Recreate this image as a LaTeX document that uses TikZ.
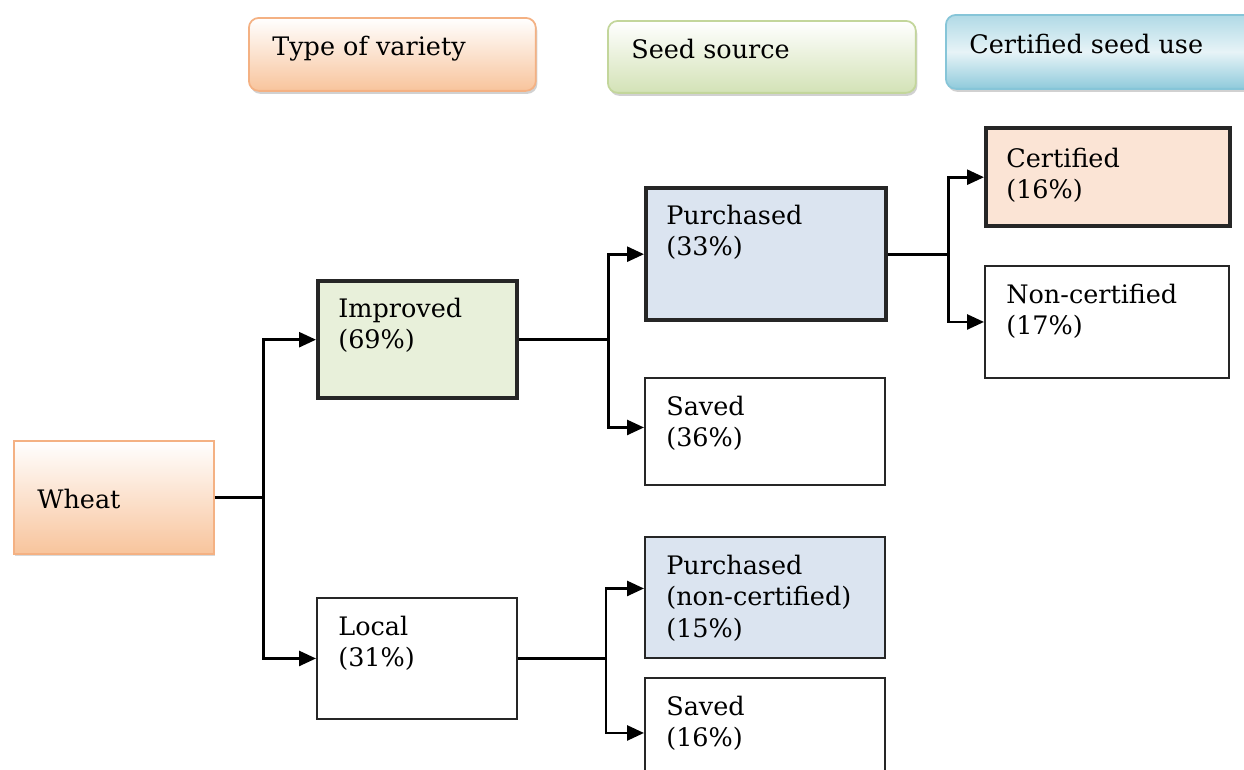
\documentclass[tikz,border=0pt]{standalone}
\usepackage{fontspec}
\setmainfont{DejaVu Serif}
\usetikzlibrary{arrows.meta,shadows}
\definecolor{peachline}{HTML}{F4B183}
\definecolor{peachdark}{HTML}{F8C49C}
\definecolor{greenline}{HTML}{C3D69B}
\definecolor{greendark}{HTML}{D3E2B6}
\definecolor{blueline}{HTML}{86C5D8}
\definecolor{bluedark}{HTML}{8FCADB}
\definecolor{imprfill}{HTML}{E8F0DA}
\definecolor{purfill}{HTML}{DBE4F0}
\definecolor{certfill}{HTML}{FBE4D5}
\tikzset{
  every node/.style={font=\fontsize{14.5}{17.8}\selectfont},
  basebox/.style={rectangle, anchor=north west, inner sep=0pt, draw=black!85},
  thinbox/.style={basebox, line width=1.1pt, fill=white},
  thickbox/.style={basebox, line width=2.5pt},
  headbox/.style={basebox, rounded corners=0.2cm, line width=1pt,
    drop shadow={shadow xshift=0.03cm, shadow yshift=-0.06cm, opacity=0.3, fill=black!60}},
  hd_peach/.style={headbox, draw=peachline, top color=white, bottom color=peachdark},
  hd_green/.style={headbox, draw=greenline, top color=white, bottom color=greendark},
  hd_blue/.style={headbox, draw=blueline, top color=bluedark!70, bottom color=bluedark, middle color=blueline!20},
  boxtext/.style={anchor=north west, align=left, inner sep=0pt, xshift=0.44cm, yshift=-0.38cm},
  sidetext/.style={anchor=west, inner sep=0pt, xshift=0.48cm},
  arr/.style={line width=1.5pt, -{Triangle[length=0.34cm,width=0.3cm]}},
  ln/.style={line width=1.5pt}
}

\begin{document}
\begin{tikzpicture}[x=0.02cm, y=-0.02cm]
	\useasboundingbox (0,0) rectangle (1244,769);
	\node [hd_peach, minimum width=5.74cm, minimum height=1.46cm] (tov) at (248,17) {};
	\node [sidetext, yshift=0.12cm] at (tov.west) {Type of variety};
	\node [hd_green, minimum width=6.16cm, minimum height=1.44cm] (ss) at (607,20) {};
	\node [sidetext, yshift=0.16cm] at (ss.west) {Seed source};
	\node [hd_blue, minimum width=6.6cm, minimum height=1.48cm] (csu) at (945,14) {};
	\node [sidetext, yshift=0.16cm] at (csu.west) {Certified seed use};

	\node [basebox, draw=peachline, line width=1pt, top color=white, bottom color=peachdark,
	  drop shadow={shadow xshift=0.03cm, shadow yshift=-0.05cm, opacity=0.25, fill=black!60},
	  minimum width=4cm, minimum height=2.26cm] (wheat) at (13,440) {};
	\node [sidetext, yshift=-0.04cm] at (wheat.west) {Wheat};

	\node [thickbox, fill=imprfill, minimum width=3.98cm, minimum height=2.34cm] (imp) at (316,279) {};
	\node [boxtext] at (imp.north west) {Improved\\(69\%)};
	\node [thinbox, minimum width=4cm, minimum height=2.42cm] (loc) at (316,597) {};
	\node [boxtext] at (loc.north west) {Local\\(31\%)};

	\node [thickbox, fill=purfill, minimum width=4.8cm, minimum height=2.64cm] (pur) at (644,186) {};
	\node [boxtext] at (pur.north west) {Purchased\\(33\%)};
	\node [thinbox, minimum width=4.8cm, minimum height=2.14cm] (sav) at (644,377) {};
	\node [boxtext] at (sav.north west) {Saved\\(36\%)};
	\node [thinbox, fill=purfill, minimum width=4.8cm, minimum height=2.42cm] (purnc) at (644,536) {};
	\node [boxtext] at (purnc.north west) {Purchased\\(non-certified)\\(15\%)};
	\node [thinbox, minimum width=4.8cm, minimum height=2.2cm] (savloc) at (644,677) {};
	\node [boxtext] at (savloc.north west) {Saved\\(16\%)};

	\node [thickbox, fill=certfill, minimum width=4.88cm, minimum height=1.96cm] (cert) at (984,126) {};
	\node [boxtext, yshift=-0.06cm] at (cert.north west) {Certified\\(16\%)};
	\node [thinbox, minimum width=4.88cm, minimum height=2.24cm] (ncert) at (984,265) {};
	\node [boxtext] at (ncert.north west) {Non-certified\\(17\%)};

	\draw [ln] (wheat.east) -- ++(49,0) coordinate (j1);
	\draw [arr] (j1) |- (imp.west);
	\draw [arr] (j1) |- (loc.west);
	\draw [ln] (imp.east) -- ++(89,0) coordinate (j2);
	\draw [arr] (j2) |- (pur.west);
	\draw [arr] (j2) |- ([yshift=0.08cm]sav.west);
	\draw [ln] (loc.east) -- ++(88,0) coordinate (j3);
	\draw [arr] (j3) |- ([yshift=0.18cm]purnc.west);
	\draw [arr] (j3) |- (savloc.west);
	\draw [ln] (pur.east) -- ++(60,0) coordinate (j4);
	\draw [arr] (j4) |- (cert.west);
	\draw [arr] (j4) |- (ncert.west);
\end{tikzpicture}
\end{document}
